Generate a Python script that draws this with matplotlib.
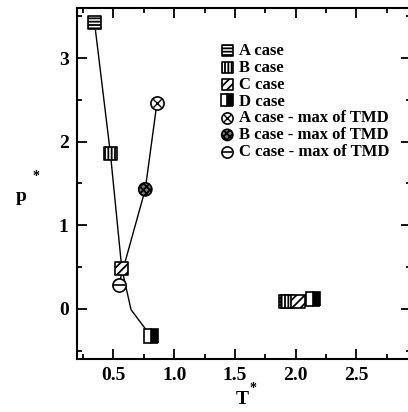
import numpy as np
import matplotlib
matplotlib.use('Agg')
import matplotlib.pyplot as plt
from matplotlib.legend_handler import HandlerTuple

plt.rcParams['font.family'] = ['Liberation Serif', 'DejaVu Serif']
plt.rcParams['font.weight'] = 'bold'
plt.rcParams['hatch.linewidth'] = 1.3

# spinodal-like line through the case points
line_T = [0.344, 0.475, 0.569, 0.645, 0.81]
line_p = [3.43, 1.86, 0.48, -0.01, -0.33]

# line of maximum density (TMD)
tmd_T = [0.858, 0.762, 0.544]
tmd_p = [2.46, 1.43, 0.29]

# case points: low-T branch and high-T cluster
caseA_T = [0.344, 1.92]
caseA_p = [3.43, 0.09]
caseB_T = [0.475, 1.935]
caseB_p = [1.86, 0.09]
caseC_T = [0.569, 2.02]
caseC_p = [0.48, 0.09]
caseD_T = [0.81, 2.14]
caseD_p = [-0.33, 0.12]

# short segment in the high-T cluster
hi_T = [2.02, 2.14]
hi_p = [0.11, 0.12]

fig = plt.figure(figsize=(4.08, 4.12), dpi=100)
W, H = 408, 412
ax = fig.add_axes([77 / W, 1 - 359 / H, (411 - 77) / W, (359 - 8) / H])

ax.plot(line_T, line_p, color='black', lw=1.0, zorder=1)
ax.plot(tmd_T, tmd_p, color='black', lw=1.0, zorder=1)
ax.plot(hi_T, hi_p, color='black', lw=1.0, zorder=1)

ms = 90
hA = ax.scatter(caseA_T, caseA_p, marker='s', s=ms, facecolor='white', edgecolor='black',
                hatch='-----', linewidths=1.2, zorder=3, label='A case')
hB = ax.scatter(caseB_T, caseB_p, marker='s', s=ms, facecolor='white', edgecolor='black',
                hatch='|||||', linewidths=1.2, zorder=3, label='B case')
hC = ax.scatter(caseC_T, caseC_p, marker='s', s=ms, facecolor='white', edgecolor='black',
                hatch='////', linewidths=1.2, zorder=3, label='C case')
hD, = ax.plot(caseD_T, caseD_p, linestyle='none', marker='s', markersize=9.5,
              fillstyle='right', markerfacecolor='black', markerfacecoloralt='white',
              markeredgecolor='black', markeredgewidth=1.2, zorder=3, label='D case')

# TMD points
c1 = ax.scatter(tmd_T[:1], tmd_p[:1], marker='o', s=ms, facecolor='white', edgecolor='black',
                linewidths=1.2, zorder=3)
x1 = ax.scatter(tmd_T[:1], tmd_p[:1], marker='x', s=35, color='black', linewidths=1.0, zorder=4)
c2 = ax.scatter(tmd_T[1:2], tmd_p[1:2], marker='o', s=ms, facecolor='#777777', edgecolor='black',
                hatch='xxxxx', linewidths=1.2, zorder=3)
c3 = ax.scatter(tmd_T[2:], tmd_p[2:], marker='o', s=ms, facecolor='white', edgecolor='black',
                linewidths=1.2, zorder=3)
x3 = ax.scatter(tmd_T[2:], tmd_p[2:], marker='_', s=70, color='black', linewidths=1.2, zorder=4)

handles = [hA, hB, hC, hD, (c1, x1), c2, (c3, x3)]
labels = ['A case', 'B case', 'C case', 'D case',
          'A case - max of TMD', 'B case - max of TMD', 'C case - max of TMD']
ax.legend(handles, labels, loc='upper left', bbox_to_anchor=(0.43, 0.9), frameon=False,
          fontsize=12, handlelength=0.8, handletextpad=0.3, labelspacing=0.05,
          borderpad=0, borderaxespad=0, markerscale=0.85,
          handler_map={tuple: HandlerTuple(ndivide=1, pad=0)})

ax.set_xlim(0.2, 2.95)
ax.set_ylim(-0.6, 3.6)
ax.set_xticks([0.5, 1.0, 1.5, 2.0, 2.5])
ax.set_xticklabels(['0.5', '1.0', '1.5', '2.0', '2.5'])
ax.set_xticks(np.arange(0.25, 3.0, 0.25), minor=True)
ax.set_yticks([0, 1, 2, 3])
ax.set_yticks(np.arange(-0.5, 3.6, 0.5), minor=True)
ax.tick_params(which='both', direction='in', top=True, right=True, labelsize=14, width=1.3)
ax.tick_params(which='major', length=7, pad=6)
ax.tick_params(which='minor', length=3.5)
for s in ax.spines.values():
    s.set_linewidth(1.5)

fig.text(242 / W, 1 - 404 / H, 'T', fontsize=14, fontweight='bold', ha='center', va='baseline')
fig.text(253 / W, 1 - 392 / H, '*', fontsize=10, ha='center', va='baseline')
fig.text(21 / W, 1 - 201 / H, 'p', fontsize=14, fontweight='bold', ha='center', va='baseline')
fig.text(36 / W, 1 - 180 / H, '*', fontsize=10, ha='center', va='baseline')

fig.savefig('out.png', dpi=100)
